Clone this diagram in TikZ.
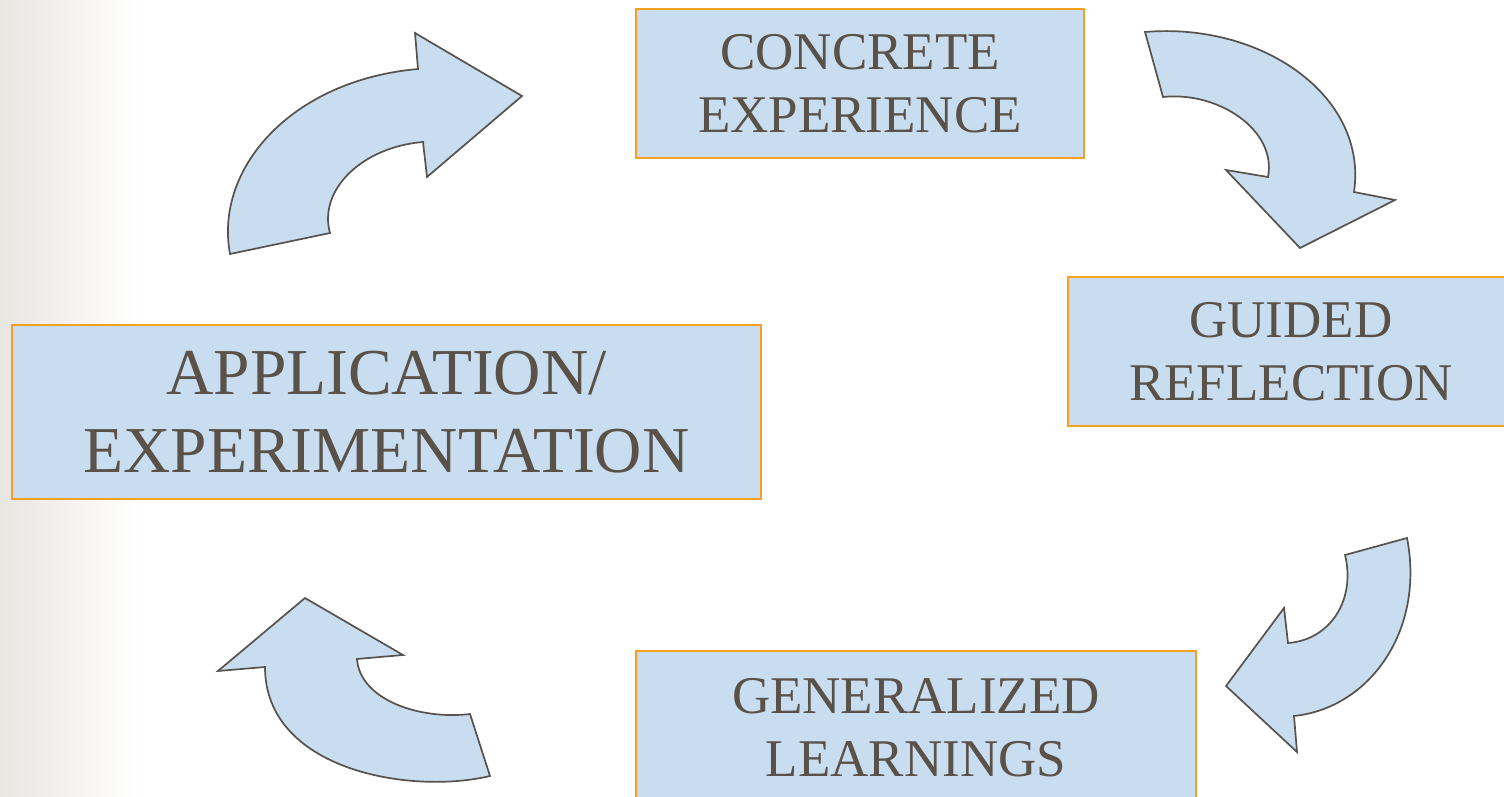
\documentclass[tikz,border=0pt]{standalone}
\usepackage{fontspec}
\setmainfont{Liberation Serif}
\begin{document}
\definecolor{boxfill}{HTML}{C8DDEF}
\definecolor{boxedge}{HTML}{F5A01E}
\definecolor{inkgrey}{HTML}{5A5149}
\definecolor{arrowedge}{HTML}{57524D}
\definecolor{sidegrey}{HTML}{E8E6E1}
\begin{tikzpicture}[x=1pt,y=-1pt,
  stage/.style={draw=boxedge, line width=1.8pt, fill=boxfill, text=inkgrey,
    align=center, inner sep=0pt},
  smalltext/.style={font=\fontsize{53}{63}\selectfont},
  bigtext/.style={font=\fontsize{65.5}{78}\selectfont},
  bentarrow/.style={draw=arrowedge, line width=1.7pt, fill=boxfill, line join=miter}]
  \useasboundingbox (0,0) rectangle (1504,797);
  \clip (0,0) rectangle (1504,797);
  % page background with a soft grey band on the left
  \fill[white] (0,0) rectangle (1504,797);
  \shade[left color=sidegrey, right color=white] (0,0) rectangle (140,797);

  % the four stages of the cycle
  \node[stage, smalltext, minimum width=448pt, minimum height=149pt]
    (concrete) at (860,83.5) {CONCRETE\\EXPERIENCE};
  \node[stage, smalltext, minimum width=446pt, minimum height=149pt]
    (guided) at (1291,351.5) {GUIDED\\REFLECTION};
  \node[stage, smalltext, minimum width=560pt, minimum height=153pt]
    (general) at (916,727.5) {GENERALIZED\\LEARNINGS};
  \node[stage, bigtext, minimum width=749pt, minimum height=174pt]
    (apply) at (386.5,412) {APPLICATION/\\EXPERIMENTATION};

  % curved block arrows between the stages
  % application -> concrete experience
  \draw[bentarrow] (230,254) .. controls (214,168) and (292,80) .. (418,69)
    -- (415,33) -- (522,96) -- (427,177) -- (423,142)
    .. controls (362,147) and (318,190) .. (330,233) -- cycle;
  % concrete experience -> guided reflection
  \draw[bentarrow] (1145,32) .. controls (1262,22) and (1368,96) .. (1354,192)
    -- (1395,200) -- (1300,248) -- (1226,170) -- (1268,177)
    .. controls (1277,130) and (1218,91) .. (1163,97) -- cycle;
  % guided reflection -> generalized learnings
  \draw[bentarrow] (1407,538) .. controls (1425,630) and (1370,708) .. (1294,716)
    -- (1297,752) -- (1226,686) -- (1284,608) -- (1288,643)
    .. controls (1330,640) and (1356,600) .. (1345,555) -- cycle;
  % generalized learnings -> application
  \draw[bentarrow] (490,776) .. controls (410,795) and (265,770) .. (265,667)
    -- (218,671) -- (305,598) -- (403,655) -- (357,659)
    .. controls (360,700) and (420,720) .. (470,714) -- cycle;
\end{tikzpicture}
\end{document}
